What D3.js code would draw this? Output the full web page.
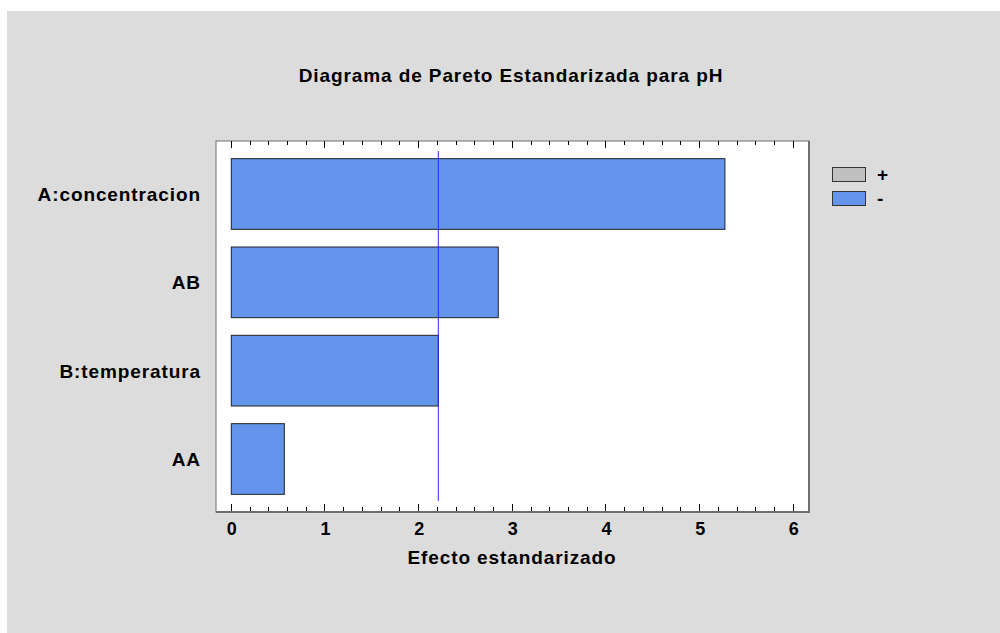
<!DOCTYPE html>
<html>
<head>
<meta charset="utf-8">
<script src="https://cdn.jsdelivr.net/npm/d3@7"></script>
<style>
  body { margin: 0; background: #fff; }
  svg { display: block; }
  text { font-family: "Liberation Sans", Arial, sans-serif; font-weight: bold; letter-spacing: 0.9px; }
</style>
</head>
<body>
<svg id="chart" width="1000" height="633"></svg>
<script>
// data
var factors = ["A:concentracion", "AB", "B:temperatura", "AA"];
var effects = [5.27, 2.85, 2.21, 0.566];
var signs = ["-", "-", "-", "-"];
var critical = 2.21;
var xTicks = [0, 1, 2, 3, 4, 5, 6];
var legendLabels = ["+", "-"];
var legendColors = ["#c0c0c0", "#6495ed"];

var svg = d3.select("#chart");

// gray panel
svg.append("rect")
  .attr("x", 7).attr("y", 11)
  .attr("width", 993).attr("height", 622)
  .attr("fill", "#dcdcdc");

svg.append("text")
  .attr("x", 511).attr("y", 82)
  .attr("text-anchor", "middle")
  .attr("font-size", 19)
  .text("Diagrama de Pareto Estandarizada para pH");

var pLeft = 216, pRight = 809, pTop = 141, pBottom = 512;

// plot frame
svg.append("rect")
  .attr("x", pLeft).attr("y", pTop)
  .attr("width", pRight - pLeft).attr("height", pBottom - pTop)
  .attr("fill", "#fff")
  .attr("stroke", "#6e6e6e")
  .attr("stroke-width", 1);
svg.append("line")
  .attr("x1", pRight).attr("x2", pRight).attr("y1", pTop).attr("y2", pBottom + 1)
  .attr("stroke", "#6e6e6e").attr("stroke-width", 2);
svg.append("line")
  .attr("x1", pLeft).attr("x2", pRight + 1).attr("y1", pBottom).attr("y2", pBottom)
  .attr("stroke", "#6e6e6e").attr("stroke-width", 2);

var x = d3.scaleLinear().domain([0, 6]).range([231.3, 793.3]);
var y = d3.scaleBand().domain(factors).range([pTop, pBottom]).padding(0.2);

// ticks pointing inward, top and bottom, with minor ticks at 0.2
var minor = d3.range(0, 6.01, 0.2).map(function(d) { return +d.toFixed(1); });
var tickG = svg.append("g");
minor.forEach(function(v) {
  var isMajor = Math.abs(v - Math.round(v)) < 1e-6;
  var len = isMajor ? 7 : 4;
  tickG.append("line")
    .attr("x1", x(v)).attr("x2", x(v))
    .attr("y1", pBottom - 1).attr("y2", pBottom - 1 - len)
    .attr("stroke", "#000").attr("stroke-width", 1)
    .attr("shape-rendering", "crispEdges");
  tickG.append("line")
    .attr("x1", x(v)).attr("x2", x(v))
    .attr("y1", pTop).attr("y2", pTop + len)
    .attr("stroke", "#000").attr("stroke-width", 1)
    .attr("shape-rendering", "crispEdges");
});

// bottom tick labels via d3 axis
var xAxis = d3.axisBottom(x).tickValues(xTicks).tickSize(0).tickPadding(10).tickFormat(d3.format("d"));
var ax = svg.append("g").attr("transform", "translate(0," + pBottom + ")").call(xAxis);
ax.select(".domain").remove();
ax.selectAll("text").attr("font-size", 18).attr("fill", "#000")
  .style("font-family", "'Liberation Sans', Arial, sans-serif").style("font-weight", "bold")
  .style("letter-spacing", "0px");

svg.append("text")
  .attr("x", 512).attr("y", 564)
  .attr("text-anchor", "middle")
  .attr("font-size", 19)
  .text("Efecto estandarizado");

// bars
svg.selectAll(".bar")
  .data(factors)
  .enter().append("rect")
  .attr("class", "bar")
  .attr("x", x(0))
  .attr("y", function(d) { return y(d); })
  .attr("width", function(d, i) { return x(effects[i]) - x(0); })
  .attr("height", y.bandwidth())
  .attr("fill", function(d, i) { return signs[i] === "+" ? legendColors[0] : legendColors[1]; })
  .attr("stroke", "#222")
  .attr("stroke-width", 1);

// category labels
svg.selectAll(".lab")
  .data(factors)
  .enter().append("text")
  .attr("class", "lab")
  .attr("x", 201)
  .attr("y", function(d) { return y(d) + y.bandwidth() / 2 + 7; })
  .attr("text-anchor", "end")
  .attr("font-size", 19)
  .text(function(d) { return d; });

// critical value line
svg.append("line")
  .attr("x1", x(critical)).attr("x2", x(critical))
  .attr("y1", pTop + 10).attr("y2", pBottom - 11)
  .attr("stroke", "#2a2aff").attr("stroke-width", 1);

// legend
var lg = svg.append("g");
legendLabels.forEach(function(l, i) {
  lg.append("rect")
    .attr("x", 832.5).attr("y", 167.5 + i * 24)
    .attr("width", 33).attr("height", 14)
    .attr("fill", legendColors[i])
    .attr("stroke", "#333").attr("stroke-width", 1);
  lg.append("text")
    .attr("x", 877).attr("y", 181 + i * 24)
    .attr("font-size", 19)
    .text(l);
});
</script>
</body>
</html>
